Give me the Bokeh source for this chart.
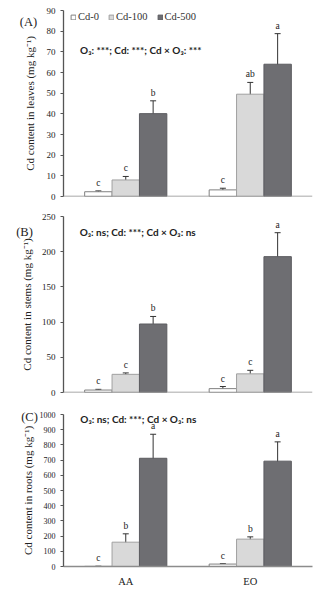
from bokeh.plotting import figure
from bokeh.models import (ColumnDataSource, FactorRange, Whisker, TeeHead, Span, Label,
                          Legend, LegendItem, SingleIntervalTicker)
from bokeh.transform import dodge
from bokeh.layouts import column
from bokeh.embed import file_html
from bokeh.resources import INLINE
from bokeh.core.properties import value

# ---------------- data ----------------
groups = ["AA", "EO"]
treatments = ["Cd-0", "Cd-100", "Cd-500"]

leaves_cd0 = [2.3, 3.2]
leaves_cd0_err = [0.4, 0.8]
leaves_cd100 = [8.0, 49.5]
leaves_cd100_err = [1.7, 5.7]
leaves_cd500 = [40.1, 64.0]
leaves_cd500_err = [6.2, 14.8]
leaves_letters = [["c", "c"], ["c", "ab"], ["b", "a"]]

stems_cd0 = [3.5, 5.5]
stems_cd0_err = [1.0, 3.0]
stems_cd100 = [25.8, 26.5]
stems_cd100_err = [2.0, 5.0]
stems_cd500 = [97.3, 193.0]
stems_cd500_err = [10.7, 34.0]
stems_letters = [["c", "c"], ["c", "c"], ["b", "a"]]

roots_cd0 = [1.0, 16.0]
roots_cd0_err = [1.0, 3.0]
roots_cd100 = [160.0, 180.0]
roots_cd100_err = [55.0, 15.0]
roots_cd500 = [712.0, 693.0]
roots_cd500_err = [158.0, 127.0]
roots_letters = [["c", "c"], ["b", "b"], ["a", "a"]]

SERIF = "Liberation Serif"
SERIF_V = value(SERIF)
fills = ["#ffffff", "#d9d9d9", "#6e6e72"]
lines = ["#808080", "#a0a0a0", "#5c5c60"]
offsets = [-0.22, 0.0, 0.22]


def make_panel(height, btop, bbottom, ymax, yint, ytitle, tag, tag_xy, anno, anno_xy,
               series, errs, letters, tick_size, title_standoff, show_x, legend=False):
    p = figure(x_range=FactorRange(*groups), y_range=(0, ymax), width=336, height=height,
               output_backend="svg", toolbar_location=None,
               min_border_left=56, min_border_right=24, min_border_top=btop,
               min_border_bottom=bbottom)
    p.outline_line_color = None
    p.xgrid.grid_line_color = None
    p.ygrid.grid_line_color = None
    p.background_fill_color = "white"
    p.border_fill_color = "white"

    items = []
    for k in range(3):
        vals = series[k]
        err = errs[k]
        src = ColumnDataSource(dict(
            g=groups, v=vals,
            up=[a + b for a, b in zip(vals, err)],
            lo=[a - b for a, b in zip(vals, err)],
            lab=letters[k]))
        r = p.vbar(x=dodge("g", offsets[k], range=p.x_range), top="v", width=0.22,
                   source=src, fill_color=fills[k], line_color=lines[k], line_width=1)
        items.append(LegendItem(label=treatments[k], renderers=[r]))
        w = Whisker(base=dodge("g", offsets[k], range=p.x_range), upper="up", lower="lo",
                    source=src, line_color="#333333", line_width=1,
                    upper_head=TeeHead(size=6, line_color="#333333", line_width=1),
                    lower_head=TeeHead(size=6, line_color="#333333", line_width=1))
        p.add_layout(w)
        p.text(x=dodge("g", offsets[k], range=p.x_range), y="up", text="lab", source=src,
               text_font=SERIF_V, text_font_size="9.5px", text_align="center",
               text_baseline="bottom", y_offset=-3, text_color="#222222")

    p.yaxis.ticker = SingleIntervalTicker(interval=yint)
    p.yaxis.axis_line_color = "#555555"
    p.yaxis.axis_line_width = 1.3
    p.yaxis.major_tick_line_color = "#555555"
    p.yaxis.major_tick_out = 3
    p.yaxis.major_tick_in = 0
    p.yaxis.minor_tick_line_color = None
    p.yaxis.major_label_text_font = SERIF
    p.yaxis.major_label_text_font_size = tick_size
    p.yaxis.major_label_text_color = "#222222"
    p.yaxis.major_label_standoff = 4
    p.yaxis.axis_label = ytitle
    p.yaxis.axis_label_text_font = SERIF
    p.yaxis.axis_label_text_font_style = "normal"
    p.yaxis.axis_label_text_font_size = "11px"
    p.yaxis.axis_label_text_color = "#222222"
    p.yaxis.axis_label_standoff = title_standoff

    if show_x:
        p.xaxis.axis_line_color = "#8c8c8c"
        p.xaxis.axis_line_width = 1.5
        p.xaxis.major_tick_line_color = None
        p.xaxis.minor_tick_line_color = None
        p.xaxis.major_label_text_font = SERIF
        p.xaxis.major_label_text_font_size = "10.5px"
        p.xaxis.major_label_text_color = "#222222"
        p.xaxis.major_label_standoff = 3
    else:
        p.xaxis.visible = False
        p.add_layout(Span(location=0, dimension="width", line_color="#8c8c8c", line_width=1.5))

    # panel tag placed in the left border panel (screen x from the canvas' left edge)
    p.add_layout(Label(x=tag_xy[0], y=tag_xy[1], x_units="screen", text=tag, text_font=SERIF,
                       text_font_size="12.5px", text_align="center", text_baseline="middle",
                       text_color="#222222"), "left")
    p.add_layout(Label(x=anno_xy[0], y=anno_xy[1], text=anno, text_font="Lato",
                       text_font_style="bold", text_font_size="10px", text_align="left",
                       text_baseline="middle", text_color="#222222"))

    if legend:
        lg = Legend(items=items, orientation="horizontal", location=(7, 174),
                    glyph_width=6, glyph_height=6, label_standoff=2, spacing=9,
                    padding=0, margin=0, label_height=10,
                    label_text_font=SERIF, label_text_font_size="10.5px",
                    label_text_color="#333333", background_fill_alpha=0,
                    border_line_color=None)
        p.add_layout(lg)
    return p


pA = make_panel(200, 10, 4, 90, 10, "Cd content in leaves (mg kg⁻¹)", "(A)", (25, 84.2),
                "O₃: ***; Cd: ***; Cd × O₃: ***", (0.133, 71.0),
                [leaves_cd0, leaves_cd100, leaves_cd500],
                [leaves_cd0_err, leaves_cd100_err, leaves_cd500_err],
                leaves_letters, "9px", 8, False, legend=True)
pB = make_panel(196, 16, 4, 250, 50, "Cd content in stems (mg kg⁻¹)", "(B)", (24, 228.4),
                "O₃: ns; Cd: ***; Cd × O₃: ns", (0.13, 227.5),
                [stems_cd0, stems_cd100, stems_cd500],
                [stems_cd0_err, stems_cd100_err, stems_cd500_err],
                stems_letters, "9px", 6, False)
pC = make_panel(193, 18, 22, 1000, 100, "Cd content in roots (mg kg⁻¹)", "(C)", (28, 984.0),
                "O₃: ns; Cd: ***; Cd × O₃: ns", (0.135, 969.0),
                [roots_cd0, roots_cd100, roots_cd500],
                [roots_cd0_err, roots_cd100_err, roots_cd500_err],
                roots_letters, "8px", 3, True)

layout = column(pA, pB, pC, spacing=0)
open("out.html", "w").write(file_html(layout, INLINE))
